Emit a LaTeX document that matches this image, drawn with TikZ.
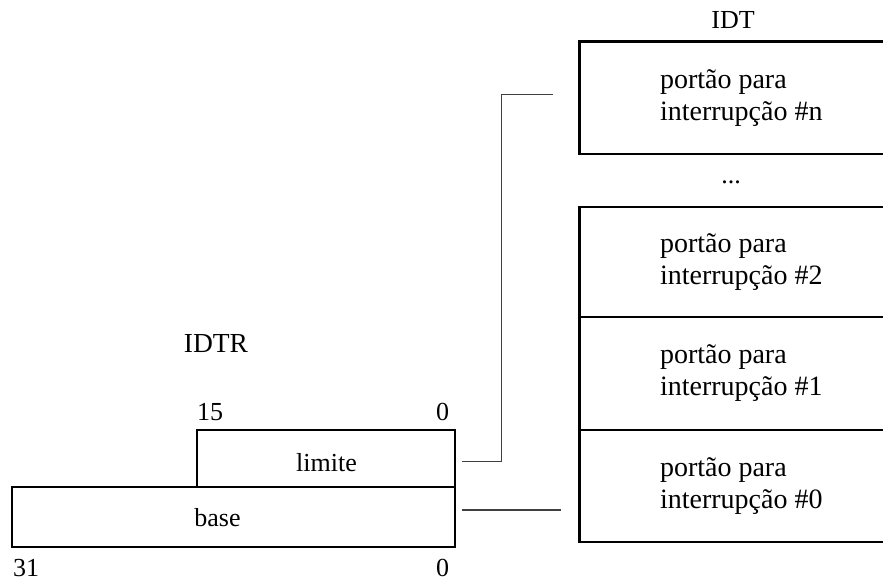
\documentclass[tikz,border=0pt]{standalone}
\usepackage{fontspec}
\setmainfont{Liberation Serif}
\begin{document}
\begin{tikzpicture}[x=1pt,y=-1pt,
  font=\fontsize{26}{32}\selectfont,
  regbox/.style={draw, line width=2.5pt, inner sep=0pt, outer sep=0pt},
  wire/.style={draw, line width=1.5pt, black!75},
  txt/.style={inner sep=0pt, outer sep=0pt},
  gatetxt/.style={inner sep=0pt, outer sep=0pt, anchor=west, align=left, font=\fontsize{28}{32}\selectfont}]
\useasboundingbox (0,0) rectangle (883,581);
\clip (0,0) rectangle (883,581);
% IDTR register
\node[regbox, minimum width=258pt, minimum height=57pt] (limite) at (326,458.5) {};
\node[regbox, minimum width=443pt, minimum height=60pt] (base) at (233.5,517) {};
\node[txt, anchor=base] (limitetxt) at (326.5,471.7) {limite};
\node[txt, anchor=base] (basetxt) at (217.5,526.7) {base};
\node[txt, anchor=base, font=\fontsize{27.5}{32}\selectfont] (idtr) at (216,352) {IDTR};
\node[txt, anchor=base west] (b15) at (197,420) {15};
\node[txt, anchor=base east] (b0a) at (449,420) {0};
\node[txt, anchor=base west] (b31) at (13,576) {31};
\node[txt, anchor=base east] (b0b) at (449,576) {0};
% IDT table
\node[txt, anchor=base] (idt) at (733,28.3) {IDT};
\node[regbox, minimum width=320.7pt, minimum height=112.3pt] (idtn) at (739.65,97.85) {};
\node[txt, anchor=base] (dots) at (731,183) {...};
\node[regbox, minimum width=320.7pt, minimum height=110pt] (g2) at (739.65,262) {};
\node[regbox, minimum width=320.7pt, minimum height=113pt] (g1) at (739.65,373.5) {};
\node[regbox, minimum width=320.7pt, minimum height=112pt] (g0) at (739.65,486) {};
\node[gatetxt] (tn) at (660,97.85) {portão para\\interrupção \#n};
\node[gatetxt] (t2) at (660,262) {portão para\\interrupção \#2};
\node[gatetxt] (t1) at (660,373.5) {portão para\\interrupção \#1};
\node[gatetxt] (t0) at (660,486) {portão para\\interrupção \#0};
% connectors
\draw[wire] ([shift={(7pt,-3.2pt)}]limite.east) coordinate (la) -- ++(39.5,0) |- ([shift={(-26.3pt,3.55pt)}]idtn.west);
\draw[wire] ([shift={(7pt,7pt)}]base.east) coordinate (ba) -- ([xshift=-18.3pt]g0.west |- ba);
\end{tikzpicture}
\end{document}
